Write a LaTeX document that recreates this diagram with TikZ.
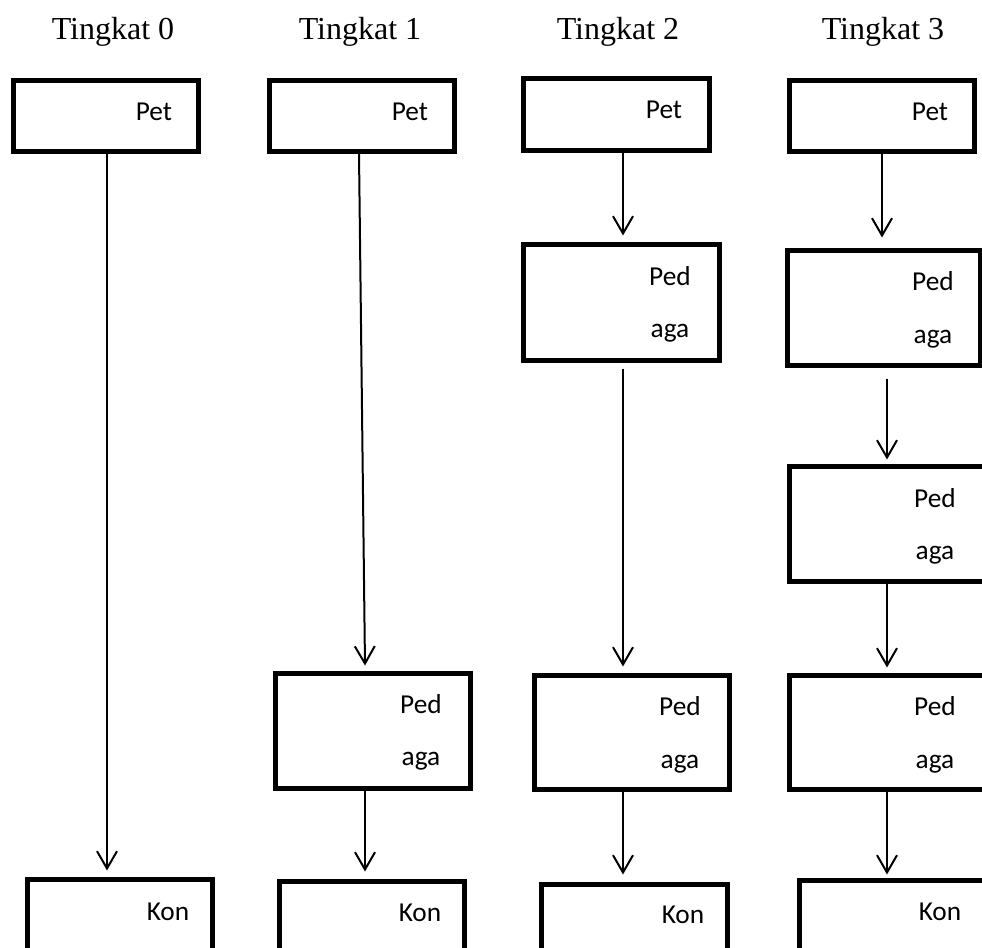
\documentclass[tikz,border=0pt]{standalone}
\usepackage{fontspec}
\setmainfont{Liberation Serif}
\newfontfamily\calib{Carlito}
\usetikzlibrary{arrows.meta,calc}
\begin{document}
\begin{tikzpicture}[x=0.75pt,y=-0.75pt,
  box/.style={draw, line width=3.75pt, rectangle, inner sep=0pt},
  lbl/.style={font=\calib\fontsize{20.5}{24}\selectfont, inner sep=0pt, anchor=base},
  hdr/.style={font=\fontsize{24}{28}\selectfont, inner sep=0pt, anchor=base},
  arr/.style={line width=1.5pt, -{Straight Barb[length=13pt,width=15pt]}}]
\useasboundingbox (0,0) rectangle (982,947);
\clip (0,0) rectangle (982,947);
\fill[white] (0,0) rectangle (982,947);
% headers
\node[hdr] (h0) at (113,39) {Tingkat 0};
\node[hdr] (h1) at (360,39) {Tingkat 1};
\node[hdr] (h2) at (618,39) {Tingkat 2};
\node[hdr] (h3) at (883,39) {Tingkat 3};
% Pet boxes
\node[box, minimum width=138.75pt, minimum height=53.25pt] (p0) at (106,116) {};
\node[box, minimum width=138.75pt, minimum height=53.25pt] (p1) at (362,116) {};
\node[box, minimum width=139.5pt, minimum height=54pt] (p2) at (616.5,114.5) {};
\node[box, minimum width=138.75pt, minimum height=53.25pt] (p3) at (882,116) {};
% Ped boxes
\node[box, minimum width=147pt, minimum height=87pt] (d2a) at (621.5,302.5) {};
\node[box, minimum width=144.75pt, minimum height=86.25pt] (d3a) at (884,308) {};
\node[box, minimum width=156pt, minimum height=86.25pt] (d3b) at (893.5,524) {};
\node[box, minimum width=146.25pt, minimum height=86.25pt] (d1) at (373,731) {};
\node[box, minimum width=146.25pt, minimum height=85.5pt] (d2b) at (632,732.5) {};
\node[box, minimum width=156pt, minimum height=85.5pt] (d3c) at (893.5,732.5) {};
% Kon boxes
\node[box, minimum width=138.75pt, minimum height=88.5pt] (k0) at (120,938.5) {};
\node[box, minimum width=138.75pt, minimum height=88.5pt] (k1) at (372,940.5) {};
\node[box, minimum width=139.5pt, minimum height=88.5pt] (k2) at (634.5,943.5) {};
\node[box, minimum width=156pt, minimum height=88.5pt] (k3) at (903.5,939.5) {};
% labels
\node[lbl] (p0t) at (154,120) {Pet};
\node[lbl] (p1t) at (410,120) {Pet};
\node[lbl] (p2t) at (664,118) {Pet};
\node[lbl] (p3t) at (930,120) {Pet};
\node[lbl] (d2at1) at (670,285) {Ped};
\node[lbl] (d2at2) at (670,337) {aga};
\node[lbl] (d3at1) at (933,290) {Ped};
\node[lbl] (d3at2) at (933,343) {aga};
\node[lbl] (d3bt1) at (935,507) {Ped};
\node[lbl] (d3bt2) at (935,559) {aga};
\node[lbl] (d1t1) at (421,713) {Ped};
\node[lbl] (d1t2) at (421,765) {aga};
\node[lbl] (d2bt1) at (680,715) {Ped};
\node[lbl] (d2bt2) at (680,768) {aga};
\node[lbl] (d3ct1) at (935,715) {Ped};
\node[lbl] (d3ct2) at (935,768) {aga};
\node[lbl] (k0t) at (168,920) {Kon};
\node[lbl] (k1t) at (420,921) {Kon};
\node[lbl] (k2t) at (683,923) {Kon};
\node[lbl] (k3t) at (940,920) {Kon};
% connectors
\draw[arr] ($(p0.south)+(1,0)$) -- ($(k0.north)+(-13,-6.5)$);
\draw[arr] ($(p1.south)+(-3,0)$) -- ($(d1.north)+(-8,-5.5)$);
\draw[arr] ($(d1.south)+(-8,0)$) -- ($(k1.north)+(-7,-7.5)$);
\draw[arr] ($(p2.south)+(6.5,0)$) -- ($(d2a.north)+(1.5,-6.5)$);
\draw[arr] ($(d2a.south)+(1.5,5.5)$) -- ($(d2b.north)+(-9,-6.5)$);
\draw[arr] ($(d2b.south)+(-9,0)$) -- ($(k2.north)+(-11.5,-7.5)$);
\draw[arr] ($(p3.south)+(0,0)$) -- ($(d3a.north)+(-2,-10.5)$);
\draw[arr] ($(d3a.south)+(3,10.5)$) -- ($(d3b.north)+(-6.5,-4.5)$);
\draw[arr] ($(d3b.south)+(-6.5,0)$) -- ($(d3c.north)+(-6.5,-5.5)$);
\draw[arr] ($(d3c.south)+(-6.5,0)$) -- ($(k3.north)+(-16.5,-3.5)$);
\end{tikzpicture}
\end{document}
